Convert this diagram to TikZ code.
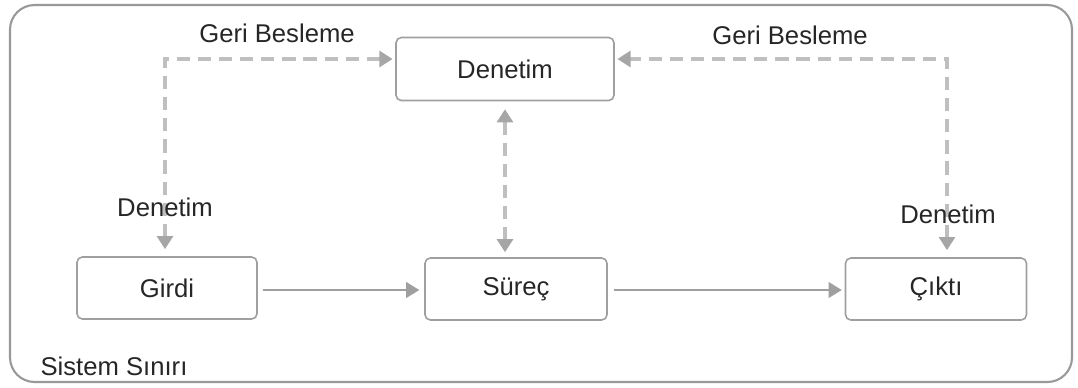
\documentclass[tikz,border=0pt]{standalone}
\usepackage{fontspec}
\setmainfont{Liberation Sans}
\usetikzlibrary{arrows.meta}

\tikzset{
    kutu/.style={draw=gray!75, rounded corners=3pt, line width=0.9pt, minimum width=3.6cm, minimum height=1.24cm, text=black!85},
    yazi/.style={text=black!85, font=\fontsize{14.6pt}{17pt}\selectfont},
    akis/.style={draw=gray!75, line width=0.9pt, -{Triangle[length=7.5pt,width=9pt]}},
    geri/.style={draw=gray!50, line width=1.9pt, dash pattern=on 7.5pt off 4.5pt, {Triangle[length=7.5pt,width=9pt,color=gray!70]}-{Triangle[length=7.5pt,width=9pt,color=gray!70]}}
}

\begin{document}
\begin{tikzpicture}[x=0.02cm, y=-0.02cm, every node/.style={yazi}]
    \useasboundingbox (0,0) rectangle (1078,387);
    \draw[gray!80, line width=1.2pt, rounded corners=14pt] (10,5) rectangle (1072,382);

    \node[kutu, minimum width=4.36cm, minimum height=1.26cm] (Denetim) at (505,69) {Denetim};
    \node[kutu] (Girdi) at (167,288) {Girdi};
    \node[kutu, minimum width=3.64cm] (Surec) at (516,289) {Süreç};
    \node[kutu, minimum width=3.62cm] (Cikti) at (936,289) {Çıktı};

    \coordinate (L) at (165,59);
    \coordinate (R) at (947,59);

    \draw[geri, shorten <=4pt, shorten >=1.5pt] (L |- Girdi.north) -- (L) -- (L -| Denetim.west);
    \draw[geri, shorten <=4pt, shorten >=1.5pt] (R |- Cikti.north) -- (R) -- (R -| Denetim.east);
    \draw[geri, shorten <=4.5pt, shorten >=2.8pt] (Denetim.south) -- (Denetim.south |- Surec.north);

    \draw[akis, shorten <=2.8pt, shorten >=2.8pt] (Girdi.east |- 0,290) -- (Surec.west |- 0,290);
    \draw[akis, shorten <=3.4pt, shorten >=1.7pt] (Surec.east |- 0,290) -- (Cikti.west |- 0,290);

    \node (GB1) at (277,33) {Geri Besleme};
    \node (GB2) at (790,35) {Geri Besleme};
    \node (D1) at (165,207) {Denetim};
    \node (D2) at (948,214) {Denetim};
    \node (Sinir) at (114,366) {Sistem Sınırı};
\end{tikzpicture}
\end{document}
